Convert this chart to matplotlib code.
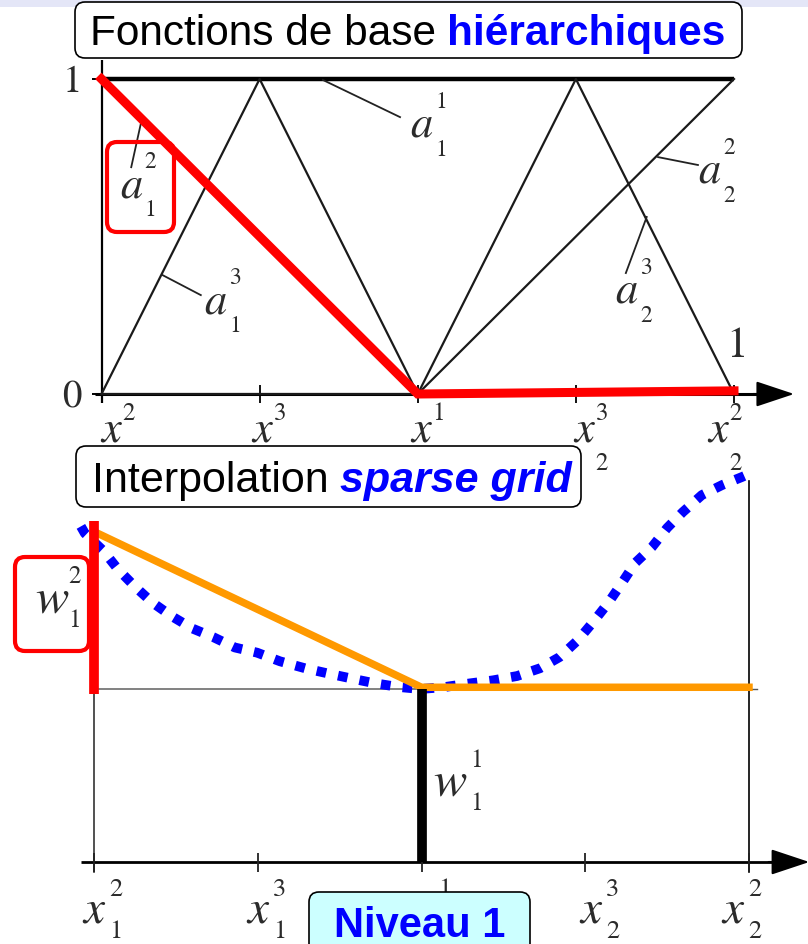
import matplotlib
matplotlib.use("Agg")
import matplotlib.pyplot as plt
from matplotlib.patches import FancyBboxPatch, Rectangle
from matplotlib.text import Annotation

# ---------------- data ----------------
grid_x = [0.0, 0.25, 0.5, 0.75, 1.0]
tick_sup = ["2", "3", "1", "3", "2"]
tick_sub = ["1", "1", "1", "2", "2"]

# hierarchical basis functions (top panel)
a11_x, a11_y = [0.0, 1.0], [1.0, 1.0]
a12_x, a12_y = [0.0, 0.5, 1.0], [1.0, 0.0, 0.01]      # highlighted (red)
a22_x, a22_y = [0.0, 0.5, 1.0], [0.0, 0.0, 1.0]
a13_x, a13_y = [0.0, 0.25, 0.5], [0.0, 1.0, 0.0]
a23_x, a23_y = [0.5, 0.75, 1.0], [0.0, 1.0, 0.0]

# sparse-grid interpolation (bottom panel)
w11 = 1.0                       # surplus at x_1^1
w12_base, w12_top = 0.97, 1.97  # red surplus bar at x_1^2
interp_x = [0.0, 0.5, 1.0]
interp_y = [1.91, 1.01, 1.01]
func_x = [-0.02, -0.014, 0.014, 0.037, 0.063, 0.089, 0.119, 0.150, 0.182, 0.215,
          0.249, 0.284, 0.322, 0.357, 0.394, 0.426, 0.464, 0.498, 0.533, 0.569,
          0.609, 0.646, 0.681, 0.711, 0.739, 0.762, 0.785, 0.806, 0.826, 0.852,
          0.875, 0.899, 0.928, 0.959, 0.989, 0.998]
func_y = [1.94, 1.90, 1.80, 1.69, 1.59, 1.50, 1.42, 1.35, 1.30, 1.24,
          1.21, 1.16, 1.12, 1.09, 1.06, 1.035, 1.012, 1.00, 1.01, 1.03,
          1.05, 1.075, 1.12, 1.185, 1.283, 1.387, 1.497, 1.613, 1.728, 1.821,
          1.931, 2.023, 2.121, 2.179, 2.225, 2.24]

# ---------------- figure ----------------
W, H = 808, 944
fig = plt.figure(figsize=(W / 100, H / 100), dpi=100)
fig.patch.set_facecolor("white")

LBL = "#2b2b2b"
SANS = ["Liberation Sans", "DejaVu Sans"]
SERIF = "STIXGeneral"


def px_box(x0, y0, x1, y1, r=10, **kw):
    p = FancyBboxPatch((x0 / W, 1 - y1 / H), (x1 - x0) / W, (y1 - y0) / H,
                       boxstyle=f"round,pad=0,rounding_size={r / W}",
                       mutation_aspect=W / H, transform=fig.transFigure, **kw)
    fig.add_artist(p)
    return p


def stacked(ax, x, y, base, sup, sub, size, ssize, dx, up, down):
    """italic letter with an upper and a lower index stacked at its right"""
    ax.text(x, y, base, family=SERIF, style="italic", fontsize=size, color=LBL,
            ha="left", va="baseline", clip_on=False)
    for s, dy in ((sup, up), (sub, -down)):
        ax.annotate(s, xy=(x, y), xycoords="data", xytext=(dx, dy),
                    textcoords="offset pixels", family=SERIF, fontsize=ssize,
                    color=LBL, ha="left", va="baseline", annotation_clip=False)


# light lavender strip at the top
fig.add_artist(Rectangle((0, 1 - 7 / H), 1, 7 / H, transform=fig.transFigure,
                         color="#e4e6f7", zorder=0.5, lw=0))

# ---------- top panel ----------
ax1 = fig.add_axes([101.5 / W, 1 - 394 / H, 632.5 / W, 315 / H])
ax1.set_xlim(0, 1)
ax1.set_ylim(0, 1)
ax1.axis("off")

kw = dict(clip_on=False, solid_capstyle="butt")
ax1.plot([0, 0], [-0.03, 1.06], color="black", lw=1.6, **kw)
ax1.plot([-0.015, 0], [1, 1], color="black", lw=1.4, **kw)
ax1.plot([-0.015, 0], [0, 0], color="black", lw=1.4, **kw)
ax1.plot([-0.01, 1.04], [0, 0], color="black", lw=2.2, **kw)
ax1.annotate("", xy=(1.095, 0), xytext=(1.03, 0), xycoords="data",
             arrowprops=dict(arrowstyle="-|>,head_length=2.4,head_width=0.8",
                             mutation_scale=10, color="black", lw=1.5,
                             shrinkA=0, shrinkB=0), annotation_clip=False)
for gx in grid_x:
    ax1.plot([gx, gx], [-0.03, 0.03], color="black", lw=1.3, **kw)

ax1.plot(a11_x, a11_y, color="black", lw=3.2, **kw)
for xs, ys in [(a22_x, a22_y), (a13_x, a13_y), (a23_x, a23_y)]:
    ax1.plot(xs, ys, color="#1a1a1a", lw=1.6, clip_on=False)
ax1.plot(a12_x, a12_y, color="#ff0000", lw=6.5, clip_on=False,
         solid_joinstyle="miter", zorder=5)

# leaders from the curves to their names
leaders = [((0.350, 0.997), (0.472, 0.879)),
           ((0.064, 0.875), (0.047, 0.72)),
           ((0.096, 0.378), (0.157, 0.314)),
           ((0.880, 0.752), (0.943, 0.727)),
           ((0.862, 0.562), (0.829, 0.384))]
for (xa, ya), (xb, yb) in leaders:
    ax1.plot([xa, xb], [ya, yb], color="#222222", lw=1.3, clip_on=False)

basis_labels = [("1", "1", 0.488, 0.816), ("2", "1", 0.029, 0.625),
                ("3", "1", 0.162, 0.257), ("2", "2", 0.943, 0.670),
                ("3", "2", 0.812, 0.289)]
for sup, sub, x, y in basis_labels:
    stacked(ax1, x, y, "a", sup, sub, 32, 17, 25, 29, 19)

ax1.text(0.987, 0.117, "1", family=SERIF, fontsize=31, color=LBL,
         ha="left", va="baseline")
ax1.text(-0.031, 1.0, "1", family=SERIF, fontsize=28, color=LBL,
         ha="right", va="center_baseline")
ax1.text(-0.031, 0.0, "0", family=SERIF, fontsize=28, color=LBL,
         ha="right", va="center_baseline")

top_off = [-0.001, -0.011, -0.01, -0.002, -0.04]
for gx, sp, sb, off in zip(grid_x, tick_sup, tick_sub, top_off):
    stacked(ax1, gx + off, -0.152, "x", sp, sb, 32, 18, 21, 22, 28)

# ---------- bottom panel ----------
ax2 = fig.add_axes([94 / W, 1 - 862 / H, 655 / W, 173 / H])
ax2.set_xlim(0, 1)
ax2.set_ylim(0, 1)
ax2.axis("off")

ax2.plot([0, 1], [1, 1], color="#777777", lw=1.3, clip_on=False)
ax2.plot([0, 0], [-0.06, 1], color="#333333", lw=1.2, clip_on=False)
ax2.plot([1, 1], [-0.06, 2.2], color="black", lw=1.2, clip_on=False)
ax2.plot([1, 1.012], [1, 1], color="#555555", lw=1.0, clip_on=False)
ax2.plot([-0.02, 1.04], [0, 0], color="black", lw=2.0, **kw)
ax2.annotate("", xy=(1.092, 0), xytext=(1.03, 0), xycoords="data",
             arrowprops=dict(arrowstyle="-|>,head_length=2.4,head_width=0.8",
                             mutation_scale=10, color="black", lw=1.5,
                             shrinkA=0, shrinkB=0), annotation_clip=False)
for gx in grid_x:
    ax2.plot([gx, gx], [-0.06, 0.05], color="#222222", lw=1.3, **kw)

ax2.plot(func_x, func_y, color="#0000ff", lw=7.0, linestyle=(0, (1.0, 1.25)),
         dash_capstyle="butt", clip_on=False, zorder=3)
ax2.plot(interp_x, interp_y, color="#ff9900", lw=5.4, clip_on=False, zorder=4,
         solid_joinstyle="miter")
ax2.plot([0.5, 0.5], [0, w11], color="black", lw=7, solid_capstyle="butt",
         clip_on=False, zorder=5)
ax2.plot([0, 0], [w12_base, w12_top], color="#ff0000", lw=7,
         solid_capstyle="butt", clip_on=False, zorder=5)

stacked(ax2, 0.5176, 0.387, "w", "1", "1", 36, 18, 37, 28, 15)
stacked(ax2, -0.090, 1.445, "w", "2", "1", 36, 18, 33, 29, 15)

bot_off = [-0.017, -0.016, -0.015, -0.008, -0.041]
for gx, sp, sb, off in zip(grid_x, tick_sup, tick_sub, bot_off):
    stacked(ax2, gx + off, -0.347, "x", sp, sb, 34, 19, 26, 26, 16)

# ---------- boxes & headings ----------
px_box(107, 142, 174, 232, r=10, fill=False, ec="#ff0000", lw=3, zorder=2)
px_box(15, 557, 89, 651, r=10, fill=False, ec="#ff0000", lw=3, zorder=2)

px_box(75, 2, 742, 58, r=10, fc="white", ec="black", lw=1.2, zorder=2)
t1 = fig.text(90 / W, 1 - 45 / H, "Fonctions de base", family=SANS, fontsize=30.5,
              color="black", ha="left", va="baseline", zorder=4)
fig.add_artist(Annotation("hiérarchiques", xy=(1, 0), xycoords=t1,
                          xytext=(8, 0), textcoords="offset points",
                          family=SANS, fontsize=30.5, fontweight="bold",
                          color="#0000ff", ha="left", va="bottom", zorder=4))

px_box(76, 446, 581, 507, r=10, fc="white", ec="black", lw=1.2, zorder=2)
t2 = fig.text(92 / W, 1 - 492 / H, "Interpolation", family=SANS, fontsize=31,
              color="black", ha="left", va="baseline", zorder=4)
fig.add_artist(Annotation("sparse grid", xy=(1, 0), xycoords=t2,
                          xytext=(8, 0), textcoords="offset points",
                          family=SANS, fontsize=31, fontweight="bold",
                          fontstyle="italic", color="#0000ff",
                          ha="left", va="bottom", zorder=4))

px_box(309, 892, 530, 960, r=10, fc="#ccffff", ec="black", lw=1.2, zorder=2)
fig.text(334 / W, 1 - 937 / H, "Niveau 1", family=SANS, fontsize=30,
         fontweight="bold", color="#0000ff", ha="left", va="baseline", zorder=4)

fig.savefig("out.png", dpi=100)
